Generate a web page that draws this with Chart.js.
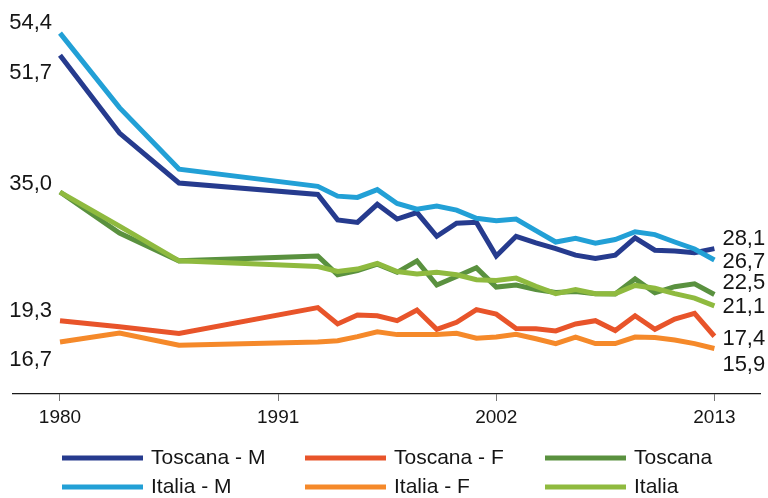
<!DOCTYPE html>
<html>
<head>
<meta charset="utf-8">
<script src="https://cdn.jsdelivr.net/npm/chart.js@4.4.1/dist/chart.umd.min.js"></script>
<style>
  html, body { margin: 0; padding: 0; background: #fff; }
  #wrap { width: 768px; height: 498px; }
</style>
</head>
<body>
<div id="wrap"><canvas id="myChart"></canvas></div>
<script>
const years = [1980, 1983, 1986, 1993, 1994, 1995, 1996, 1997, 1998, 1999, 2000, 2001, 2002, 2003, 2004, 2005, 2006, 2007, 2008, 2009, 2010, 2011, 2012, 2013];

const toscanaM = [51.7, 42.2, 36.1, 34.7, 31.6, 31.3, 33.5, 31.7, 32.5, 29.6, 31.2, 31.3, 27.2, 29.6, 28.8, 28.1, 27.3, 26.9, 27.3, 29.4, 27.9, 27.8, 27.6, 28.1];
const toscanaF = [19.3, 18.55, 17.75, 20.9, 18.9, 20.0, 19.9, 19.3, 20.6, 18.25, 19.1, 20.65, 20.1, 18.35, 18.3, 18.05, 18.9, 19.3, 18.1, 19.9, 18.25, 19.5, 20.2, 17.4];
const toscana  = [35.0, 30.0, 26.6, 27.2, 24.9, 25.4, 26.2, 25.2, 26.6, 23.65, 24.7, 25.75, 23.4, 23.65, 23.1, 22.75, 22.85, 22.6, 22.55, 24.4, 22.7, 23.45, 23.8, 22.5];
const italiaM  = [54.4, 45.3, 37.8, 35.7, 34.5, 34.35, 35.3, 33.6, 32.9, 33.3, 32.8, 31.8, 31.5, 31.7, 30.3, 28.9, 29.35, 28.75, 29.2, 30.15, 29.8, 28.9, 28.05, 26.7];
const italiaF  = [16.7, 17.8, 16.3, 16.7, 16.85, 17.35, 17.95, 17.6, 17.6, 17.6, 17.75, 17.15, 17.3, 17.65, 17.1, 16.5, 17.3, 16.5, 16.5, 17.3, 17.25, 16.95, 16.5, 15.9];
const italia   = [35.0, 30.85, 26.6, 25.9, 25.3, 25.6, 26.3, 25.3, 25.0, 25.2, 24.9, 24.3, 24.2, 24.5, 23.5, 22.6, 23.1, 22.6, 22.6, 23.6, 23.25, 22.6, 22.05, 21.1];

const seriesNames = ['Toscana - M', 'Toscana - F', 'Toscana', 'Italia - M', 'Italia - F', 'Italia'];
const xTicks = [1980, 1991, 2002, 2013];

const colors = ['#263b8e', '#e8542a', '#5a913f', '#22a0d6', '#f5892a', '#8fba3f'];
// where the value labels sit relative to the first / last point (null = no label)
const startDy = [18, -10, -8, -10, 18, null];
const endDy   = [-10, 2.5, -12, 2, 16.5, 1.5];

const fmt = v => v.toFixed(1).replace('.', ',');
const toPoints = arr => years.map((yr, i) => ({ x: yr, y: arr[i] }));

const allSeries = [toscanaM, toscanaF, toscana, italiaM, italiaF, italia];

const extrasPlugin = {
    id: 'extras',
    afterDatasetsDraw(chart) {
        const { ctx, scales: { x, y } } = chart;
        ctx.save();
        ctx.fillStyle = '#151515';
        ctx.textBaseline = 'middle';
        ctx.font = '22px "Liberation Sans", Arial, sans-serif';
        allSeries.forEach((d, i) => {
            const n = d.length;
            if (startDy[i] !== null) {
                ctx.textAlign = 'right';
                ctx.fillText(fmt(d[0]), x.getPixelForValue(years[0]) - 8, y.getPixelForValue(d[0]) + startDy[i]);
            }
            ctx.textAlign = 'left';
            ctx.fillText(fmt(d[n - 1]), x.getPixelForValue(years[n - 1]) + 8, y.getPixelForValue(d[n - 1]) + endDy[i]);
        });

        // x tick labels
        ctx.font = '19px "Liberation Sans", Arial, sans-serif';
        ctx.textAlign = 'center';
        xTicks.forEach(t => {
            ctx.fillText(String(t), x.getPixelForValue(t), chart.chartArea.bottom + 24);
        });

        // legend: 3 columns, 2 rows
        ctx.font = '21px "Liberation Sans", Arial, sans-serif';
        ctx.textAlign = 'left';
        const colX = [62, 305, 545];
        const rowY = [458, 487];
        seriesNames.forEach((name, i) => {
            const cx = colX[i % 3];
            const cy = rowY[Math.floor(i / 3)];
            ctx.strokeStyle = colors[i];
            ctx.lineWidth = 5;
            ctx.beginPath();
            ctx.moveTo(cx, cy);
            ctx.lineTo(cx + 81, cy);
            ctx.stroke();
            ctx.fillText(name, cx + 89, cy);
        });
        ctx.restore();
    }
};

const ctx = document.getElementById('myChart');

new Chart(ctx, {
    type: 'line',
    data: {
        datasets: allSeries.map((arr, i) => ({
            label: seriesNames[i],
            data: toPoints(arr),
            borderColor: colors[i],
            backgroundColor: colors[i],
            borderWidth: 5,
            pointRadius: 0,
            tension: 0,
            order: i < 3 ? 1 : 0
        }))
    },
    options: {
        responsive: true,
        maintainAspectRatio: false,
        animation: false,
        layout: { padding: { left: 13, right: 8, top: 20, bottom: 0 } },
        plugins: {
            legend: { display: false },
            tooltip: { enabled: false }
        },
        scales: {
            x: {
                type: 'linear',
                min: 1977.63,
                max: 2015.3,
                afterBuildTicks: scale => {
                    scale.ticks = xTicks.map(v => ({ value: v }));
                },
                afterFit: scale => { scale.height = 104; },
                ticks: { display: false },
                grid: { drawOnChartArea: false, drawTicks: true, tickLength: 7, color: '#777', lineWidth: 1 },
                border: { display: true, color: '#1a1a1a', width: 1.2 }
            },
            y: {
                display: false,
                min: 10.35,
                max: 56
            }
        }
    },
    plugins: [extrasPlugin]
});
</script>
</body>
</html>
